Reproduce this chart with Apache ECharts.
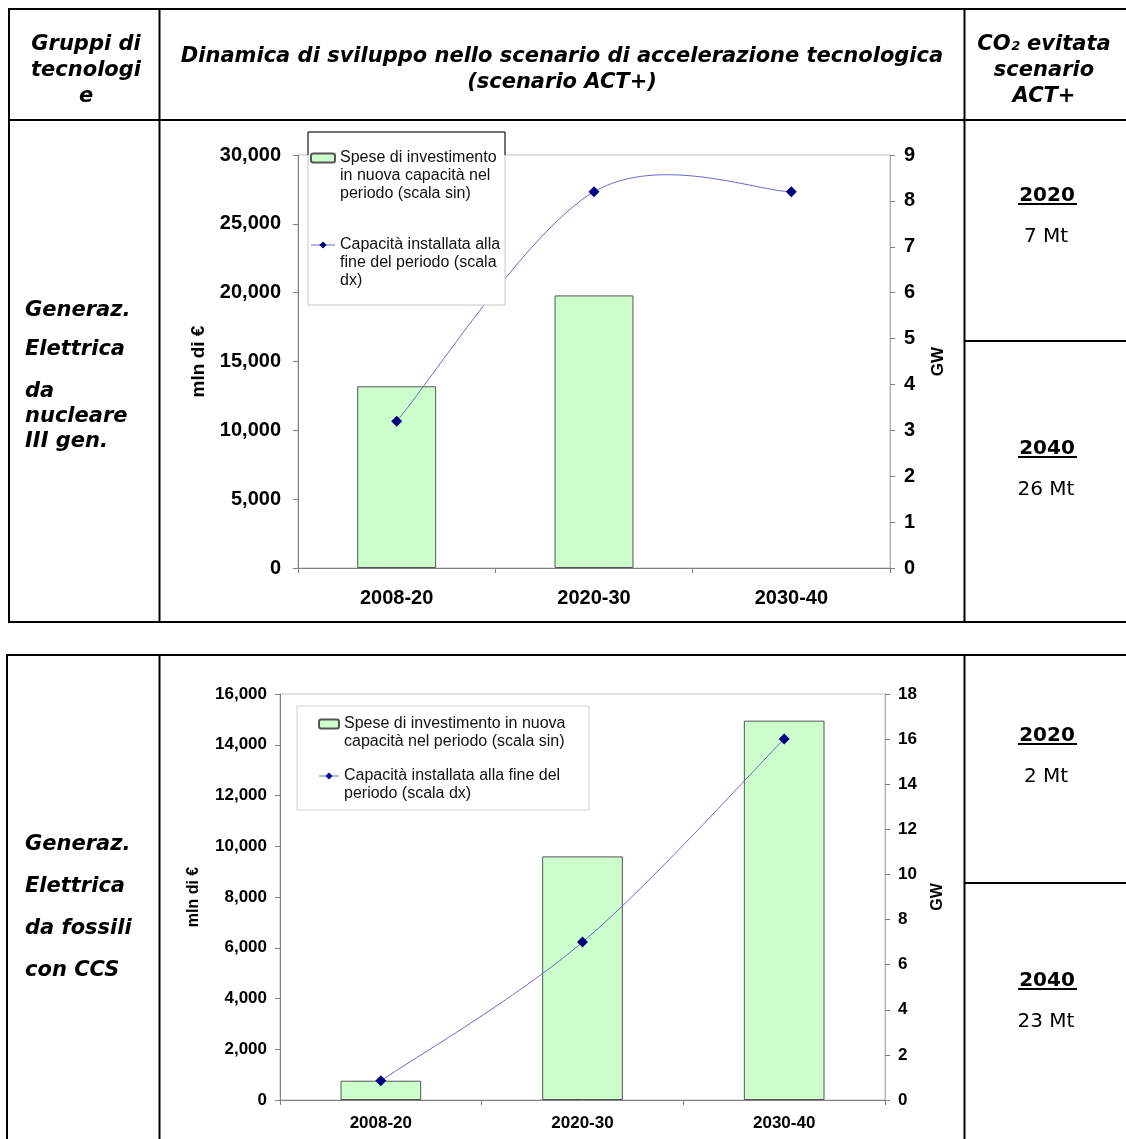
<!DOCTYPE html>
<html><head><meta charset="utf-8">
<script src="https://cdn.jsdelivr.net/npm/echarts@6/dist/echarts.min.js"></script>
<style>html,body{margin:0;padding:0;background:#fff}#c{width:1126px;height:1139px}</style>
</head><body><div id="c"></div>
<script>
// ---------------- data ----------------
const categories = ['2008-20', '2020-30', '2030-40'];
const nuclearInvestment = [13200, 19800, null];   // mln di € (left scale)
const nuclearCapacity = [3.2, 8.2, 8.2];          // GW (right scale)
const ccsInvestment = [760, 9600, 14950];          // mln di € (left scale)
const ccsCapacity = [0.85, 7.0, 16.0];             // GW (right scale)
const nuclearLeftTicks = [0, 5000, 10000, 15000, 20000, 25000, 30000];
const nuclearRightTicks = [0, 1, 2, 3, 4, 5, 6, 7, 8, 9];
const ccsLeftTicks = [0, 2000, 4000, 6000, 8000, 10000, 12000, 14000, 16000];
const ccsRightTicks = [0, 2, 4, 6, 8, 10, 12, 14, 16, 18];
const nucBarName = 'Spese di investimento\nin nuova capacità nel\nperiodo (scala sin)';
const nucLineName = 'Capacità installata alla\nfine del periodo (scala\ndx)';
const ccsBarName = 'Spese di investimento in nuova\ncapacità nel periodo (scala sin)';
const ccsLineName = 'Capacità installata alla fine del\nperiodo (scala dx)';
const headerLeft = ['Gruppi di', 'tecnologi', 'e'];
const headerMid = ['Dinamica di sviluppo nello scenario di accelerazione tecnologica', '(scenario ACT+)'];
const headerRight = ['CO₂ evitata', 'scenario', 'ACT+'];
const row1Label = ['Generaz.', 'Elettrica', 'da', 'nucleare', 'III gen.'];
const row2Label = ['Generaz.', 'Elettrica', 'da fossili', 'con CCS'];
const row1CO2 = [['2020', '7 Mt'], ['2040', '26 Mt']];
const row2CO2 = [['2020', '2 Mt'], ['2040', '23 Mt']];

// ---------------- layout helpers ----------------
const AF = '"Liberation Sans", Arial, sans-serif';
const TF = '"DejaVu Sans", Verdana, sans-serif';
const fmt = v => String(v).replace(/\B(?=(\d{3})+(?!\d))/g, ',');

const g = [];
function line(x1, y1, x2, y2, w, c) {
  g.push({type: 'line', z: 20, shape: {x1, y1, x2, y2}, style: {stroke: c || '#000', lineWidth: w || 2}});
}
function text(t, x, y, font, align) {
  g.push({type: 'text', z: 20, style: {text: t, x, y, font, fill: '#000', align: align || 'center', verticalAlign: 'middle'}});
}
const HF = 'italic bold 21px ' + TF;
// table 1 frame
line(8, 9, 1126, 9); line(8, 120, 1126, 120); line(8, 622, 1126, 622);
line(9, 8, 9, 623); line(159.5, 8, 159.5, 623); line(964.5, 8, 964.5, 623);
line(964, 341, 1126, 341);
// table 2 frame
line(6, 655, 1126, 655);
line(7, 654, 7, 1139); line(159.5, 654, 159.5, 1139); line(964.5, 654, 964.5, 1139);
line(964, 883, 1126, 883);
// header
headerLeft.forEach((t, i) => text(t, 86, 45 + i * 26, HF));
headerMid.forEach((t, i) => text(t, 562, 57 + i * 26, HF));
headerRight.forEach((t, i) => text(t, 1044, 45 + i * 26, HF));
// row labels
const r1y = [311, 350, 392, 417, 442];
row1Label.forEach((t, i) => text(t, 25, r1y[i], HF, 'left'));
const r2y = [845, 887, 929, 971];
row2Label.forEach((t, i) => text(t, 25, r2y[i], HF, 'left'));
// CO2 cells
function co2(pairs, ys) {
  pairs.forEach((p, i) => {
    text(p[0], 1047, ys[i], 'bold 20px ' + TF);
    line(1018, ys[i] + 8, 1077, ys[i] + 8, 2);
    text(p[1], 1046, ys[i] + 41, '20px ' + TF);
  });
}
co2(row1CO2, [196, 449]);
co2(row2CO2, [736, 981]);
// legend boxes
g.push({type: 'rect', z: 5, shape: {x: 308, y: 132, width: 197, height: 173}, style: {fill: '#fff', stroke: '#c8c8c8', lineWidth: 1}});
g.push({type: 'polyline', z: 6, shape: {points: [[308, 155], [308, 132], [505, 132], [505, 155]]}, style: {stroke: '#000', lineWidth: 1, fill: null}});
g.push({type: 'rect', z: 5, shape: {x: 297, y: 706, width: 292, height: 104}, style: {fill: '#fff', stroke: '#d0d0d0', lineWidth: 1}});

function yAxisCfg(grid, ticks, name, gap, labMargin, fs, nfs, right) {
  return {
    type: 'value', gridIndex: grid, position: right ? 'right' : 'left',
    min: ticks[0], max: ticks[ticks.length - 1], interval: ticks[1] - ticks[0],
    name, nameLocation: 'middle', nameGap: gap, nameRotate: 90,
    nameTextStyle: {fontFamily: AF, fontWeight: 'bold', fontSize: nfs, color: '#000'},
    axisLine: {show: true, lineStyle: {color: right ? '#b0b0b0' : '#808080', width: 1}},
    axisTick: {show: true, length: 5, lineStyle: {color: '#808080'}},
    splitLine: {show: false},
    axisLabel: {fontFamily: AF, fontWeight: 'bold', fontSize: fs, color: '#000', margin: labMargin,
      formatter: v => fmt(v)}
  };
}
function xAxisCfg(grid, fs, margin) {
  return {
    type: 'category', gridIndex: grid, data: categories, boundaryGap: true,
    axisLine: {show: true, lineStyle: {color: '#808080'}},
    axisTick: {show: true, length: 5, alignWithLabel: false, lineStyle: {color: '#808080'}},
    axisLabel: {fontFamily: AF, fontWeight: 'bold', fontSize: fs, color: '#000', margin}
  };
}
const LINE_COLOR = '#6a6acc';
const barStyle = {color: '#ccffcc', borderColor: '#555', borderWidth: 1};
// markers (line itself drawn by the smoothed custom series below)
const markerSeries = (name, xi, yi, data) => ({
  type: 'line', name, xAxisIndex: xi, yAxisIndex: yi, data, z: 4,
  symbol: 'diamond', symbolSize: 11,
  lineStyle: {color: LINE_COLOR, width: 1, opacity: 0}, itemStyle: {color: '#000080'}
});
// Excel-style (Catmull-Rom) smoothed line through the data points, positioned with api.coord
const curveSeries = (xi, yi, data) => ({
  type: 'custom', xAxisIndex: xi, yAxisIndex: yi, z: 3, silent: true,
  data: data.map((v, i) => [i, v]),
  renderItem: (params, api) => {
    if (params.dataIndex !== 0) return null;
    const P = data.map((v, i) => api.coord([i, v]));
    const n = P.length, children = [];
    const tan = i => {
      const a = P[Math.max(0, i - 1)], b = P[Math.min(n - 1, i + 1)];
      return [(b[0] - a[0]) / 6, (b[1] - a[1]) / 6];
    };
    for (let i = 0; i < n - 1; i++) {
      const t0 = tan(i), t1 = tan(i + 1);
      children.push({type: 'bezierCurve', shape: {
        x1: P[i][0], y1: P[i][1], x2: P[i + 1][0], y2: P[i + 1][1],
        cpx1: P[i][0] + t0[0], cpy1: P[i][1] + t0[1],
        cpx2: P[i + 1][0] - t1[0], cpy2: P[i + 1][1] - t1[1]},
        style: {stroke: LINE_COLOR, lineWidth: 1, fill: null}});
    }
    return {type: 'group', children};
  }
});
const legendCfg = (names, left, top, gap, iw) => ({
  data: names, orient: 'vertical', left, top, padding: 0, itemGap: gap,
  itemWidth: iw, itemHeight: 9, selectedMode: false, z: 10,
  formatter: name => '\n'.repeat(name.split('\n').length - 1) + name,
  lineStyle: {color: LINE_COLOR, width: 1, opacity: 1},
  textStyle: {fontFamily: AF, fontSize: 16, lineHeight: 18, color: '#111'}
});

const option = {
  animation: false,
  backgroundColor: '#fff',
  grid: [
    {left: 298, top: 155, width: 592, height: 413, show: true, borderColor: '#c0c0c0', borderWidth: 1, containLabel: false},
    {left: 280, top: 694, width: 605, height: 406, show: true, borderColor: '#c0c0c0', borderWidth: 1, containLabel: false}
  ],
  xAxis: [xAxisCfg(0, 20, 20), xAxisCfg(1, 17, 15)],
  yAxis: [
    yAxisCfg(0, nuclearLeftTicks, 'mln di €', 90, 17, 20, 19, false),
    yAxisCfg(0, nuclearRightTicks, 'GW', 40, 14, 20, 17, true),
    yAxisCfg(1, ccsLeftTicks, 'mln di €', 78, 13, 17, 16, false),
    yAxisCfg(1, ccsRightTicks, 'GW', 45, 13, 17, 16, true)
  ],
  legend: [
    legendCfg([nucBarName, nucLineName], 310, 113, -3, 24),
    legendCfg([ccsBarName, ccsLineName], 318, 697, -2, 20)
  ],
  series: [
    {type: 'bar', name: nucBarName, xAxisIndex: 0, yAxisIndex: 0, data: nuclearInvestment, barWidth: '40%', itemStyle: barStyle},
    curveSeries(0, 1, nuclearCapacity),
    markerSeries(nucLineName, 0, 1, nuclearCapacity),
    {type: 'bar', name: ccsBarName, xAxisIndex: 1, yAxisIndex: 2, data: ccsInvestment, barWidth: '40%', itemStyle: barStyle},
    curveSeries(1, 3, ccsCapacity),
    markerSeries(ccsLineName, 1, 3, ccsCapacity)
  ],
  graphic: {elements: g}
};
const chart = echarts.init(document.getElementById('c'), null, {renderer: 'canvas'});
chart.setOption(option);
</script>
</body></html>
